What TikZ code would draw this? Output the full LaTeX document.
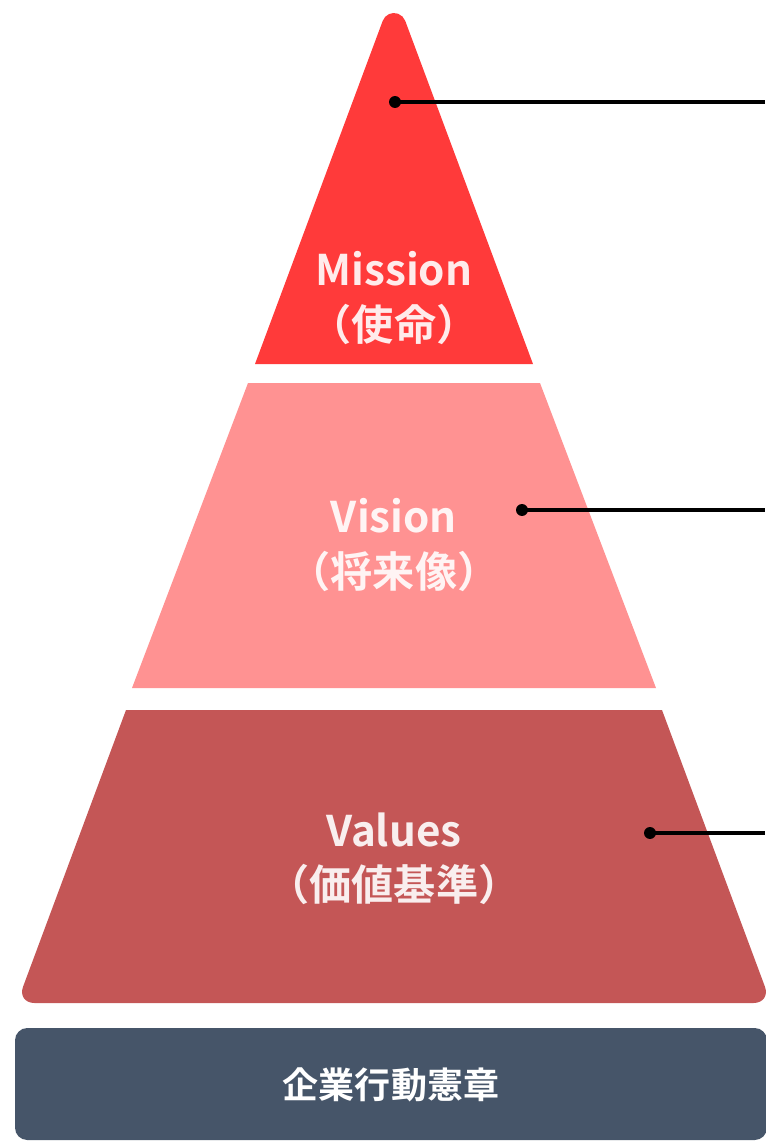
\documentclass[tikz,border=0pt]{standalone}
\usepackage{fontspec}
\setmainfont{Noto Sans CJK JP}[BoldFont={Noto Sans CJK JP Bold}]
\usetikzlibrary{positioning}
\definecolor{MissionRed}{RGB}{255,58,58}
\definecolor{VisionPink}{RGB}{255,146,146}
\definecolor{ValuesRed}{RGB}{196,86,86}
\definecolor{CharterSlate}{RGB}{70,85,105}

\tikzset{
  layertext/.style={font=\bfseries\fontsize{24}{31}\selectfont, text=white, text opacity=0.9, align=center},
  pindot/.style={circle, fill=black, inner sep=0pt, minimum size=6.8pt},
  pinline/.style={line width=2.1pt, black},
}

\begin{document}
\begin{tikzpicture}[x=0.02cm,y=-0.02cm]
\useasboundingbox (0,0) rectangle (765,1144);

% layers
\fill[MissionRed] (255,364) -- (382.7,20.9) arc[start angle=160, end angle=20, radius=0.24cm] -- (533,364) -- cycle;
\fill[VisionPink] (248,383) -- (540,383) -- (656,688) -- (132,688) -- cycle;
\fill[ValuesRed] (126,710) -- (662,710) [rounded corners=10pt] -- (771,1003) -- (17,1003) [sharp corners] -- cycle;
\fill[CharterSlate, rounded corners=7pt] (15,1028) rectangle (767,1140);

% labels
\node[layertext] (mission) at (394,298) {Mission\\（使命）};
\node[layertext] (vision) at (394,545) {Vision\\（将来像）};
\node[layertext] (values) at (394,859) {Values\\（価値基準）};
\node[font=\bfseries\fontsize{20.5}{24}\selectfont, text=white] (charter) at (391,1085) {企業行動憲章};

% pins
\node[pindot] (missiondot) at (395,102) {};
\node[pindot] (visiondot) at (522,510) {};
\node[pindot] (valuesdot) at (650,833) {};
\coordinate (missionend) at (765,102);
\coordinate (visionend) at (765,510);
\coordinate (valuesend) at (765,833);
\draw[pinline] (missiondot.center) -- (missionend);
\draw[pinline] (visiondot.center) -- (visionend);
\draw[pinline] (valuesdot.center) -- (valuesend);
\end{tikzpicture}
\end{document}
